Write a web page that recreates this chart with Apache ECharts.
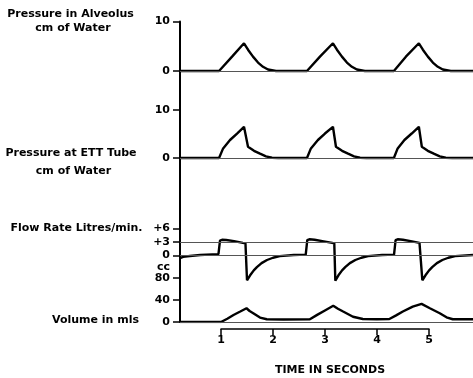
<!DOCTYPE html>
<html>
<head>
<meta charset="utf-8">
<script src="https://cdn.jsdelivr.net/npm/echarts@6/dist/echarts.min.js"></script>
<style>html,body{margin:0;padding:0;background:#fff}#c{width:473px;height:378px}</style>
</head>
<body>
<div id="c"></div>
<script>
// ---- data (time in seconds, value) ----
var alveolus = [[0.21,0],[0.962,0],[1.212,2.9],[1.442,5.6],[1.519,4.3],[1.615,2.9],[1.712,1.7],[1.808,0.85],[1.904,0.3],[2.058,0],
  [2.654,0],[2.904,2.9],[3.154,5.6],[3.231,4.3],[3.327,2.9],[3.423,1.7],[3.519,0.85],[3.615,0.3],[3.769,0],
  [4.327,0],[4.558,2.9],[4.808,5.6],[4.885,4.3],[4.981,2.9],[5.077,1.7],[5.173,0.85],[5.269,0.3],[5.423,0],[5.85,0]];
var ett = [[0.21,0],[0.962,0],[1.04,2.0],[1.173,3.75],[1.308,5.1],[1.442,6.5],[1.519,2.35],[1.635,1.5],[1.75,0.9],[1.865,0.35],[1.98,0.05],[2.1,0],
  [2.654,0],[2.73,2.0],[2.865,3.75],[3.0,5.1],[3.154,6.5],[3.212,2.35],[3.33,1.5],[3.445,0.9],[3.56,0.35],[3.675,0.05],[3.8,0],
  [4.327,0],[4.40,2.0],[4.53,3.75],[4.67,5.1],[4.808,6.5],[4.865,2.35],[4.98,1.5],[5.095,0.9],[5.21,0.35],[5.325,0.05],[5.45,0],[5.85,0]];
var flow = [[0.21,-0.6],[0.27,-0.3],[0.4,-0.1],[0.6,0.1],[0.95,0.3],[0.98,3.3],[1.02,3.5],[1.1,3.45],[1.25,3.2],[1.42,2.8],[1.47,2.7],
  [1.5,-5.5],[1.56,-4.4],[1.63,-3.3],[1.69,-2.6],[1.78,-1.7],[1.885,-1.0],[2.0,-0.5],[2.13,-0.15],[2.4,0.1],[2.63,0.2],
  [2.66,3.4],[2.7,3.6],[2.8,3.5],[2.95,3.2],[3.14,2.8],[3.18,2.7],
  [3.2,-5.6],[3.26,-4.4],[3.33,-3.3],[3.39,-2.6],[3.48,-1.7],[3.585,-1.0],[3.7,-0.5],[3.83,-0.15],[4.1,0.1],[4.33,0.2],
  [4.36,3.4],[4.4,3.6],[4.5,3.5],[4.65,3.2],[4.82,2.8],[4.855,2.7],
  [4.875,-5.5],[4.935,-4.4],[5.005,-3.3],[5.065,-2.6],[5.155,-1.7],[5.26,-1.0],[5.375,-0.5],[5.505,-0.15],[5.85,0.1]];
var volume = [[0.21,0],[1.0,0],[1.12,6],[1.24,12.7],[1.37,19],[1.49,25],[1.55,20],[1.62,16],[1.75,8],[1.88,5],[2.2,4.5],[2.71,5],
  [2.85,13],[3.0,21],[3.16,29.5],[3.25,24],[3.35,19],[3.54,9.6],[3.73,5.5],[4.0,5],[4.24,5.5],
  [4.37,12],[4.5,19],[4.69,28],[4.86,33],[5.02,25],[5.21,16],[5.34,8.5],[5.46,5],[5.85,5]];
var alvTicks = [0,10];
var ettTicks = [0,10];
var flowTicks = [0,3,6];
var volTicks = [0,40,80];
var volLabels = [0,40,80,100]; // 100 position carries "cc"
var timeTicks = [1,2,3,4,5];

var FONT = 'DejaVu Sans';
var chart = echarts.init(document.getElementById('c'), null, {renderer:'canvas'});
var T0 = 0.21, T1 = 5.85;
function xa(i){return {gridIndex:i,type:'value',min:T0,max:T1,show:false};}
function ya(i,min,max,ticks,labels,fmt){
  return {gridIndex:i,type:'value',min:min,max:max,splitLine:{show:false},
    axisLine:{show:true,onZero:false,lineStyle:{color:'#000',width:2}},
    axisTick:{show:true,length:7,customValues:ticks,lineStyle:{color:'#000',width:1.5}},
    axisLabel:{show:true,customValues:labels||ticks,margin:10,color:'#000',fontFamily:FONT,fontWeight:'bold',fontSize:11,
      formatter:fmt||function(v){return String(v);}}};
}
var ml = function(vals){return {silent:true,symbol:'none',label:{show:false},animation:false,
  lineStyle:{color:'#555',width:1,type:'solid'},data:vals.map(function(v){return {yAxis:v};})};};
function ser(i,data,marks){return {type:'line',xAxisIndex:i,yAxisIndex:i,data:data,showSymbol:false,smooth:false,
  lineStyle:{color:'#000',width:2.4},animation:false,markLine:ml(marks),z:3};}

function txt(s,x,y){return {type:'text',x:x,y:y,style:{text:s,font:'bold 11px '+FONT,fill:'#000',align:'center',verticalAlign:'middle'}};}

var option = {
  animation:false,
  grid:[
    {left:180,width:293,top:21.5,height:64.35},
    {left:180,width:293,top:86,height:134.4},
    {left:180,width:293,top:219.5,height:67.5},
    {left:180,width:293,top:267,height:55},
    {left:221,width:208,top:328,height:1}
  ],
  xAxis:[xa(0),xa(1),xa(2),xa(3),
    {gridIndex:4,type:'value',min:1,max:5,interval:1,splitLine:{show:false},
     axisLine:{show:true,onZero:false,lineStyle:{color:'#000',width:1.5}},
     axisTick:{show:true,length:6,lineStyle:{color:'#000',width:1.5}},
     axisLabel:{margin:6,color:'#000',fontFamily:FONT,fontWeight:'bold',fontSize:11,customValues:timeTicks}}],
  yAxis:[
    ya(0,-3,10,alvTicks),
    ya(1,-13,15,ettTicks),
    ya(2,-7,8,flowTicks,null,function(v){return v>0?'+'+v:String(v);}),
    ya(3,0,100,volTicks,volLabels,function(v){return v===100?'cc':String(v);}),
    {gridIndex:4,type:'value',min:0,max:1,show:false}
  ],
  series:[ser(0,alveolus,[0]),ser(1,ett,[0]),ser(2,flow,[0,3]),ser(3,volume,[0])],
  graphic:[
    txt('Pressure in Alveolus',70.5,14),
    txt('cm of Water',73,28),
    txt('Pressure at ETT Tube',71,153.5),
    txt('cm of Water',73.5,171),
    txt('Flow Rate Litres/min.',76.5,228.5),
    txt('Volume in mls',95.5,320),
    txt('TIME IN SECONDS',330,370)
  ]
};
chart.setOption(option);
</script>
</body>
</html>
